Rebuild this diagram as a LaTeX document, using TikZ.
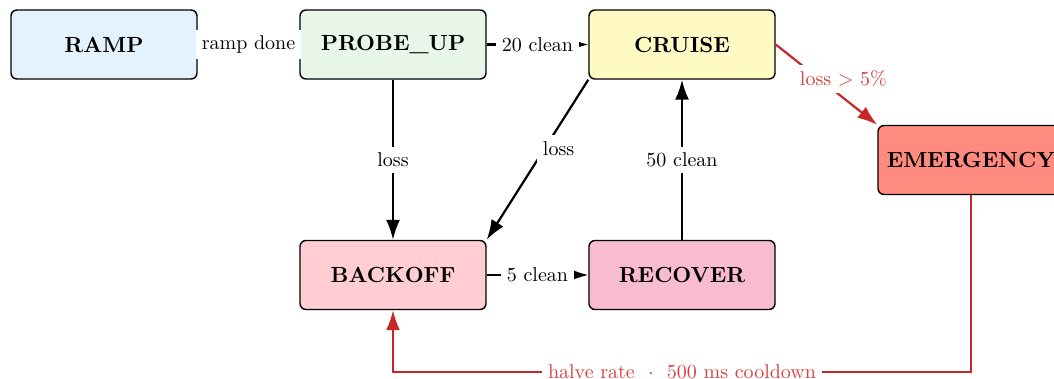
\documentclass[tikz,border=0pt]{standalone}
\usetikzlibrary{arrows.meta}
\definecolor{cramp}{HTML}{E3F2FD}
\definecolor{cprobe}{HTML}{E8F5E9}
\definecolor{ccruise}{HTML}{FFF9C4}
\definecolor{cemerg}{HTML}{FF8A80}
\definecolor{cback}{HTML}{FFCDD2}
\definecolor{crec}{HTML}{F8BBD0}
\definecolor{cred}{HTML}{C62828}
\definecolor{credtext}{HTML}{D84040}
\tikzset{
  state/.style={draw=black, line width=0.7pt, rounded corners=3pt,
    minimum width=93pt, minimum height=34.5pt, inner sep=0pt,
    font=\fontsize{10.95}{13.6}\selectfont\bfseries},
  lbl/.style={fill=white, inner sep=3pt, font=\fontsize{10}{12}\selectfont},
  bigedge/.style={line width=1.1pt, -{Latex[length=10pt,width=7pt]}},
  rededge/.style={draw=cred, line width=1.1pt, -{Latex[length=10pt,width=7pt]}},
  redlbl/.style={lbl, text=credtext},
}
\begin{document}
\begin{tikzpicture}[x=0.5pt,y=-0.5pt]
\useasboundingbox (0,0) rectangle (1054,379);
\node[state, fill=cramp]   (ramp)   at (104,44.5) {RAMP};
\node[state, fill=cprobe]  (probe)  at (393,44.5) {PROBE\_UP};
\node[state, fill=ccruise] (cruise) at (682,44.5) {CRUISE};
\node[state, fill=cemerg]  (emerg)  at (971,160)  {EMERGENCY};
\node[state, fill=cback]   (back)   at (393,275)  {BACKOFF};
\node[state, fill=crec]    (rec)    at (682,275)  {RECOVER};
\coordinate (c1) at (971,372);
\coordinate (c2) at (393,372);

\draw[bigedge] (ramp.east) -- node[lbl] {ramp done} (probe.west);
\draw[bigedge] (probe.east) -- node[lbl] {20 clean} (cruise.west);
\draw[bigedge] (probe.south) -- node[lbl] {loss} (back.north);
\draw[bigedge] (cruise.south west) -- node[lbl, pos=0.43, xshift=7pt] {loss} (back.north east);
\draw[bigedge] (rec.north) -- node[lbl] {50 clean} (cruise.south);
\draw[bigedge] (back.east) -- node[lbl] {5 clean} (rec.west);
\draw[rededge] (cruise.east) -- node[redlbl, pos=0.43, xshift=12pt] {loss $>$ 5\%} (emerg.north west);
\draw[rededge] (emerg.south) -- (c1) -- node[redlbl, inner ysep=1pt] {halve rate\ \ $\cdot$\ \ 500 ms cooldown} (c2) -- (back.south);
\end{tikzpicture}
\end{document}
